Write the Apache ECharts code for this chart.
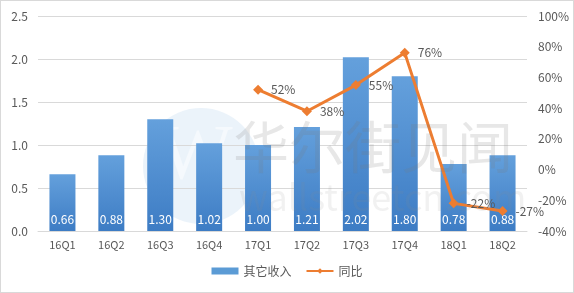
<!DOCTYPE html>
<html><head><meta charset="utf-8">
<script src="https://cdn.jsdelivr.net/npm/echarts@6/dist/echarts.min.js"></script>
<style>html,body{margin:0;padding:0;background:#fff}#c{width:572px;height:291px;border:1px solid #d9d9d9}</style>
</head><body><div id="c"></div>
<script>
const categories = ['16Q1','16Q2','16Q3','16Q4','17Q1','17Q2','17Q3','17Q4','18Q1','18Q2'];
const revenue = [0.66,0.88,1.30,1.02,1.00,1.21,2.02,1.80,0.78,0.88];
const yoy = [null,null,null,null,52,38,55,76,-22,-27];
const leftTicks = [0,0.5,1.0,1.5,2.0,2.5];
const rightTicks = [-40,-20,0,20,40,60,80,100];
const font = '"Microsoft YaHei","Noto Sans CJK SC","Noto Sans",sans-serif';
const chart = echarts.init(document.getElementById('c'));
chart.setOption({
  animation:false,
  textStyle:{fontFamily:font},
  grid:{left:37,right:46,top:15,bottom:61},
  graphic:[
    {type:'circle',shape:{cx:200,cy:165,r:58},style:{fill:'rgba(91,155,213,0.12)'},z:-1},
    {type:'text',left:158,top:118,style:{text:'W',fontSize:78,fontFamily:'"Liberation Serif",serif',fill:'rgba(255,255,255,0.5)'},z:-1},
    {type:'text',left:232,top:118,style:{text:'华尔街见闻',fontSize:56,fontFamily:font,fill:'rgba(120,120,120,0.18)'},z:10},
    {type:'text',left:238,top:178,style:{text:'wallstreetcn.com',fontSize:36,fontFamily:font,fill:'rgba(140,140,140,0.12)'},z:10}
  ],
  legend:{bottom:10,left:'center',itemGap:14,textStyle:{color:'#595959',fontSize:12,fontFamily:font},
    data:[{name:'其它收入',icon:'rect',itemStyle:{color:'#5b9bd5'}},{name:'同比'}],itemWidth:27,itemHeight:7},
  xAxis:{type:'category',data:categories,axisTick:{show:false},axisLine:{lineStyle:{color:'#d9d9d9'}},
    axisLabel:{color:'#595959',fontSize:11,margin:8}},
  yAxis:[
    {type:'value',min:0,max:2.5,interval:0.5,axisLine:{show:false},axisTick:{show:false},
      splitLine:{lineStyle:{color:'#d9d9d9'}},
      axisLabel:{color:'#595959',fontSize:12,margin:10,formatter:v=>v.toFixed(1)}},
    {type:'value',min:-40,max:100,interval:20,axisLine:{show:false},axisTick:{show:false},splitLine:{show:false},
      axisLabel:{color:'#595959',fontSize:12,margin:11,formatter:v=>v+'%'}}
  ],
  series:[
    {name:'其它收入',type:'bar',data:revenue,barWidth:26,
      itemStyle:{color:new echarts.graphic.LinearGradient(0,0,0,1,[{offset:0,color:'#64a0dc'},{offset:1,color:'#3d7cc4'}])},
      label:{show:true,position:'insideBottom',distance:6,color:'#fff',fontSize:12,formatter:p=>p.value.toFixed(2)}},
    {name:'同比',type:'line',yAxisIndex:1,data:yoy,symbol:'diamond',symbolSize:10,
      lineStyle:{color:'#ed7d31',width:3},itemStyle:{color:'#ed7d31'},z:5,
      label:{show:true,position:'right',distance:8,color:'#595959',fontSize:12,formatter:p=>p.value+'%'}}
  ]
});
</script></body></html>
